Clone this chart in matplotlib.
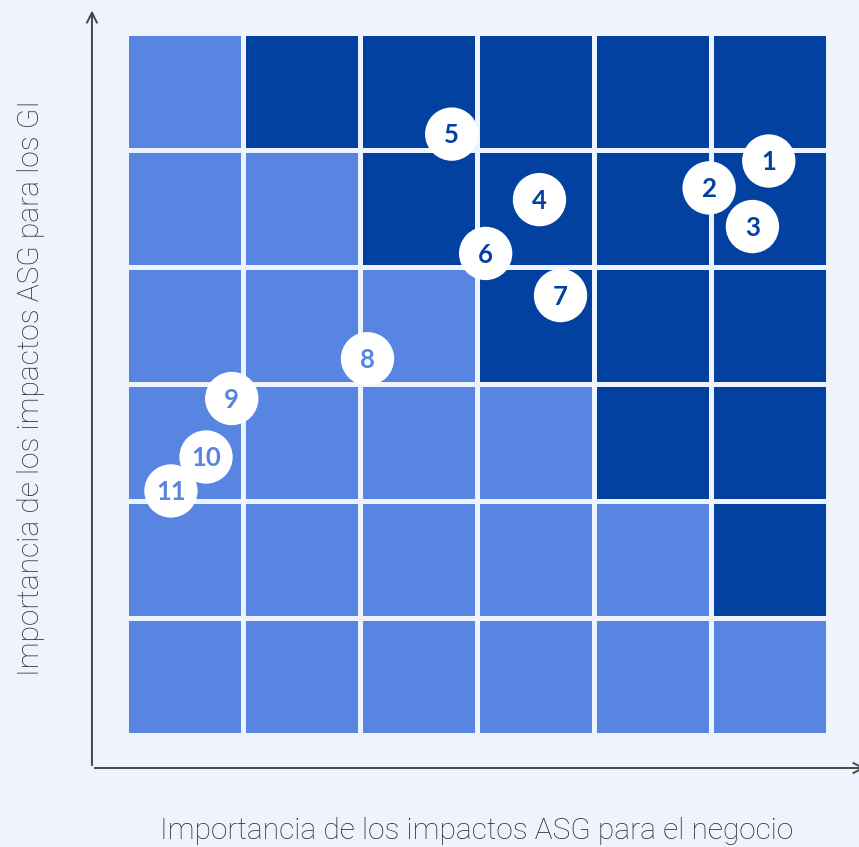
import numpy as np
import matplotlib.pyplot as plt
from matplotlib.patches import Rectangle, Circle

# 6x6 materiality grid, row 0 = bottom, col 0 = left; 1 = high (dark)
levels = [
    [0, 0, 0, 0, 0, 0],
    [0, 0, 0, 0, 0, 1],
    [0, 0, 0, 0, 1, 1],
    [0, 0, 0, 1, 1, 1],
    [0, 0, 1, 1, 1, 1],
    [0, 1, 1, 1, 1, 1],
]

# numbered topics: (label, business importance, stakeholder importance)
labels = ['1', '2', '3', '4', '5', '6', '7', '8', '9', '10', '11']
x_vals = [5.49, 4.98, 5.35, 3.53, 2.78, 3.07, 3.71, 2.06, 0.90, 0.68, 0.38]
y_vals = [4.91, 4.68, 4.35, 4.58, 5.14, 4.12, 3.76, 3.22, 2.88, 2.38, 2.09]

xlabel = 'Importancia de los impactos ASG para el negocio'
ylabel = 'Importancia de los impactos ASG para los GI'

bg = '#EFF3FD'
dark = '#0341A0'
light = '#5885E1'
axis_col = '#454545'

fig = plt.figure(figsize=(8.59, 8.47), dpi=100, facecolor=bg)
ax = fig.add_axes([0, 0, 1, 1])
ax.set_facecolor(bg)
ax.set_xlim(-1.081, 6.261)
ax.set_ylim(-0.953, 6.286)
ax.set_aspect('equal')
ax.axis('off')

gap = 0.0214
for r, row in enumerate(levels):
    for c, v in enumerate(row):
        ax.add_patch(Rectangle((c + gap, r + gap), 1 - 2 * gap, 1 - 2 * gap,
                               facecolor=dark if v else light, edgecolor='none', zorder=1))

# axes with open arrow heads
ax.annotate('', xy=(-0.295, 6.22), xytext=(-0.295, -0.278), annotation_clip=False,
            arrowprops=dict(arrowstyle='->', color=axis_col, lw=1.4, mutation_scale=18), zorder=2)
ax.annotate('', xy=(6.34, -0.278), xytext=(-0.295, -0.278), annotation_clip=False,
            arrowprops=dict(arrowstyle='->', color=axis_col, lw=1.4, mutation_scale=18), zorder=2)

for i, (lab, x, y) in enumerate(zip(labels, x_vals, y_vals)):
    cell = levels[int(y)][int(x)]
    ax.add_patch(Circle((x, y), 0.228, facecolor='white', edgecolor='none', zorder=3 + i))
    ax.text(x, y - 0.01, lab, ha='center', va='center', fontsize=18.5, fontweight='bold',
            family='Lato', color=dark if cell else light, zorder=3 + i)

ax.text(2.99, -0.82, xlabel, ha='center', va='center', fontsize=21.5,
        family='Roboto', fontweight='light', color='#2B2B2B')
ax.text(-0.82, 2.97, ylabel, ha='center', va='center', rotation=90, fontsize=21.5,
        family='Roboto', fontweight='light', color='#2B2B2B')

fig.savefig('out.png', dpi=100, facecolor=bg)
